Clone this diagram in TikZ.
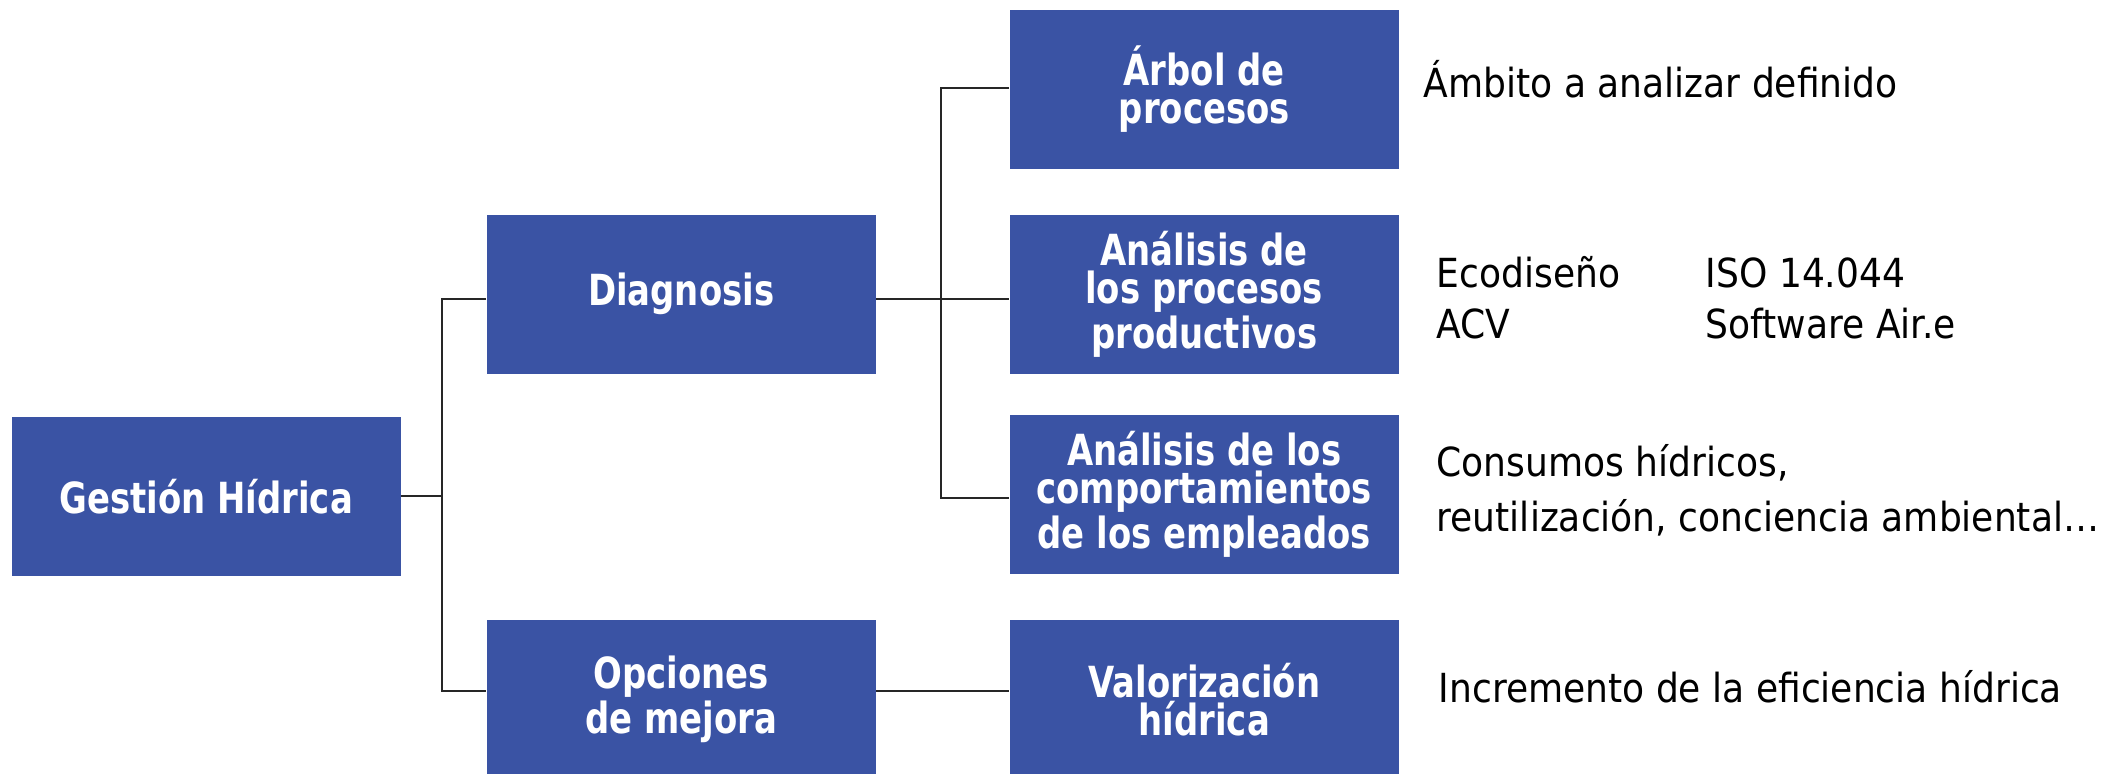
\documentclass[tikz,border=0pt]{standalone}
\usepackage{fontspec}
\setmainfont{DejaVu Sans}
\newfontfamily\boxfont{DejaVu Sans}[FakeStretch=0.79]
\newfontfamily\sidefont{DejaVu Sans}[FakeStretch=0.9]
\definecolor{boxblue}{RGB}{58,83,164}
\begin{document}
\begin{tikzpicture}[x=0.1mm,y=-0.1mm,
  bx/.style={fill=boxblue, text=white, minimum width=38.9mm, minimum height=15.9mm,
    inner sep=0pt, align=center, anchor=north west,
    font=\boxfont\bfseries\fontsize{12.2}{10.8}\selectfont},
  side/.style={anchor=base west, inner sep=0pt, font=\sidefont\fontsize{11.4}{15}\selectfont},
  conn/.style={draw=black!85, line width=0.7pt}]
\useasboundingbox (0,0) rectangle (2109,774);
\node[bx] (gest) at (11,416) {Gestión Hídrica};
\node[bx] (diag) at (486,214) {Diagnosis};
\node[bx] (opc) at (486,619) {Opciones\\de mejora};
\node[bx] (arbol) at (1009,9) {Árbol de\\procesos};
\node[bx] (proc) at (1009,214) {Análisis de\\los procesos\\productivos};
\node[bx] (comp) at (1009,414) {Análisis de los\\comportamientos\\de los empleados};
\node[bx] (val) at (1009,619) {Valorización\\hídrica};
\coordinate (ta1) at (442,299);
\coordinate (ta2) at (442,691);
\coordinate (tb1) at (941,88);
\coordinate (tb2) at (941,498);
\draw[conn] (gest.east) -- (gest.east -| ta1);
\draw[conn] (diag.west |- ta1) -- (ta1) -- (ta2) -- (opc.west |- ta2);
\draw[conn] (arbol.west |- tb1) -- (tb1) -- (tb2) -- (comp.west |- tb2);
\draw[conn] (diag.east |- ta1) -- (proc.west |- ta1);
\draw[conn] (opc.east |- ta2) -- (val.west |- ta2);
\node[side] (t1) at (1423,98) {Ámbito a analizar definido};
\node[side] (t2) at (1436,288) {Ecodiseño};
\node[side] (t3) at (1705,288) {ISO 14.044};
\node[side] (t4) at (1436,339) {ACV};
\node[side] (t5) at (1705,339) {Software Air.e};
\node[side] (t6) at (1436,477) {Consumos hídricos,};
\node[side] (t7) at (1436,532) {reutilización, conciencia ambiental…};
\node[side] (t8) at (1438,703) {Incremento de la eficiencia hídrica};
\end{tikzpicture}
\end{document}
